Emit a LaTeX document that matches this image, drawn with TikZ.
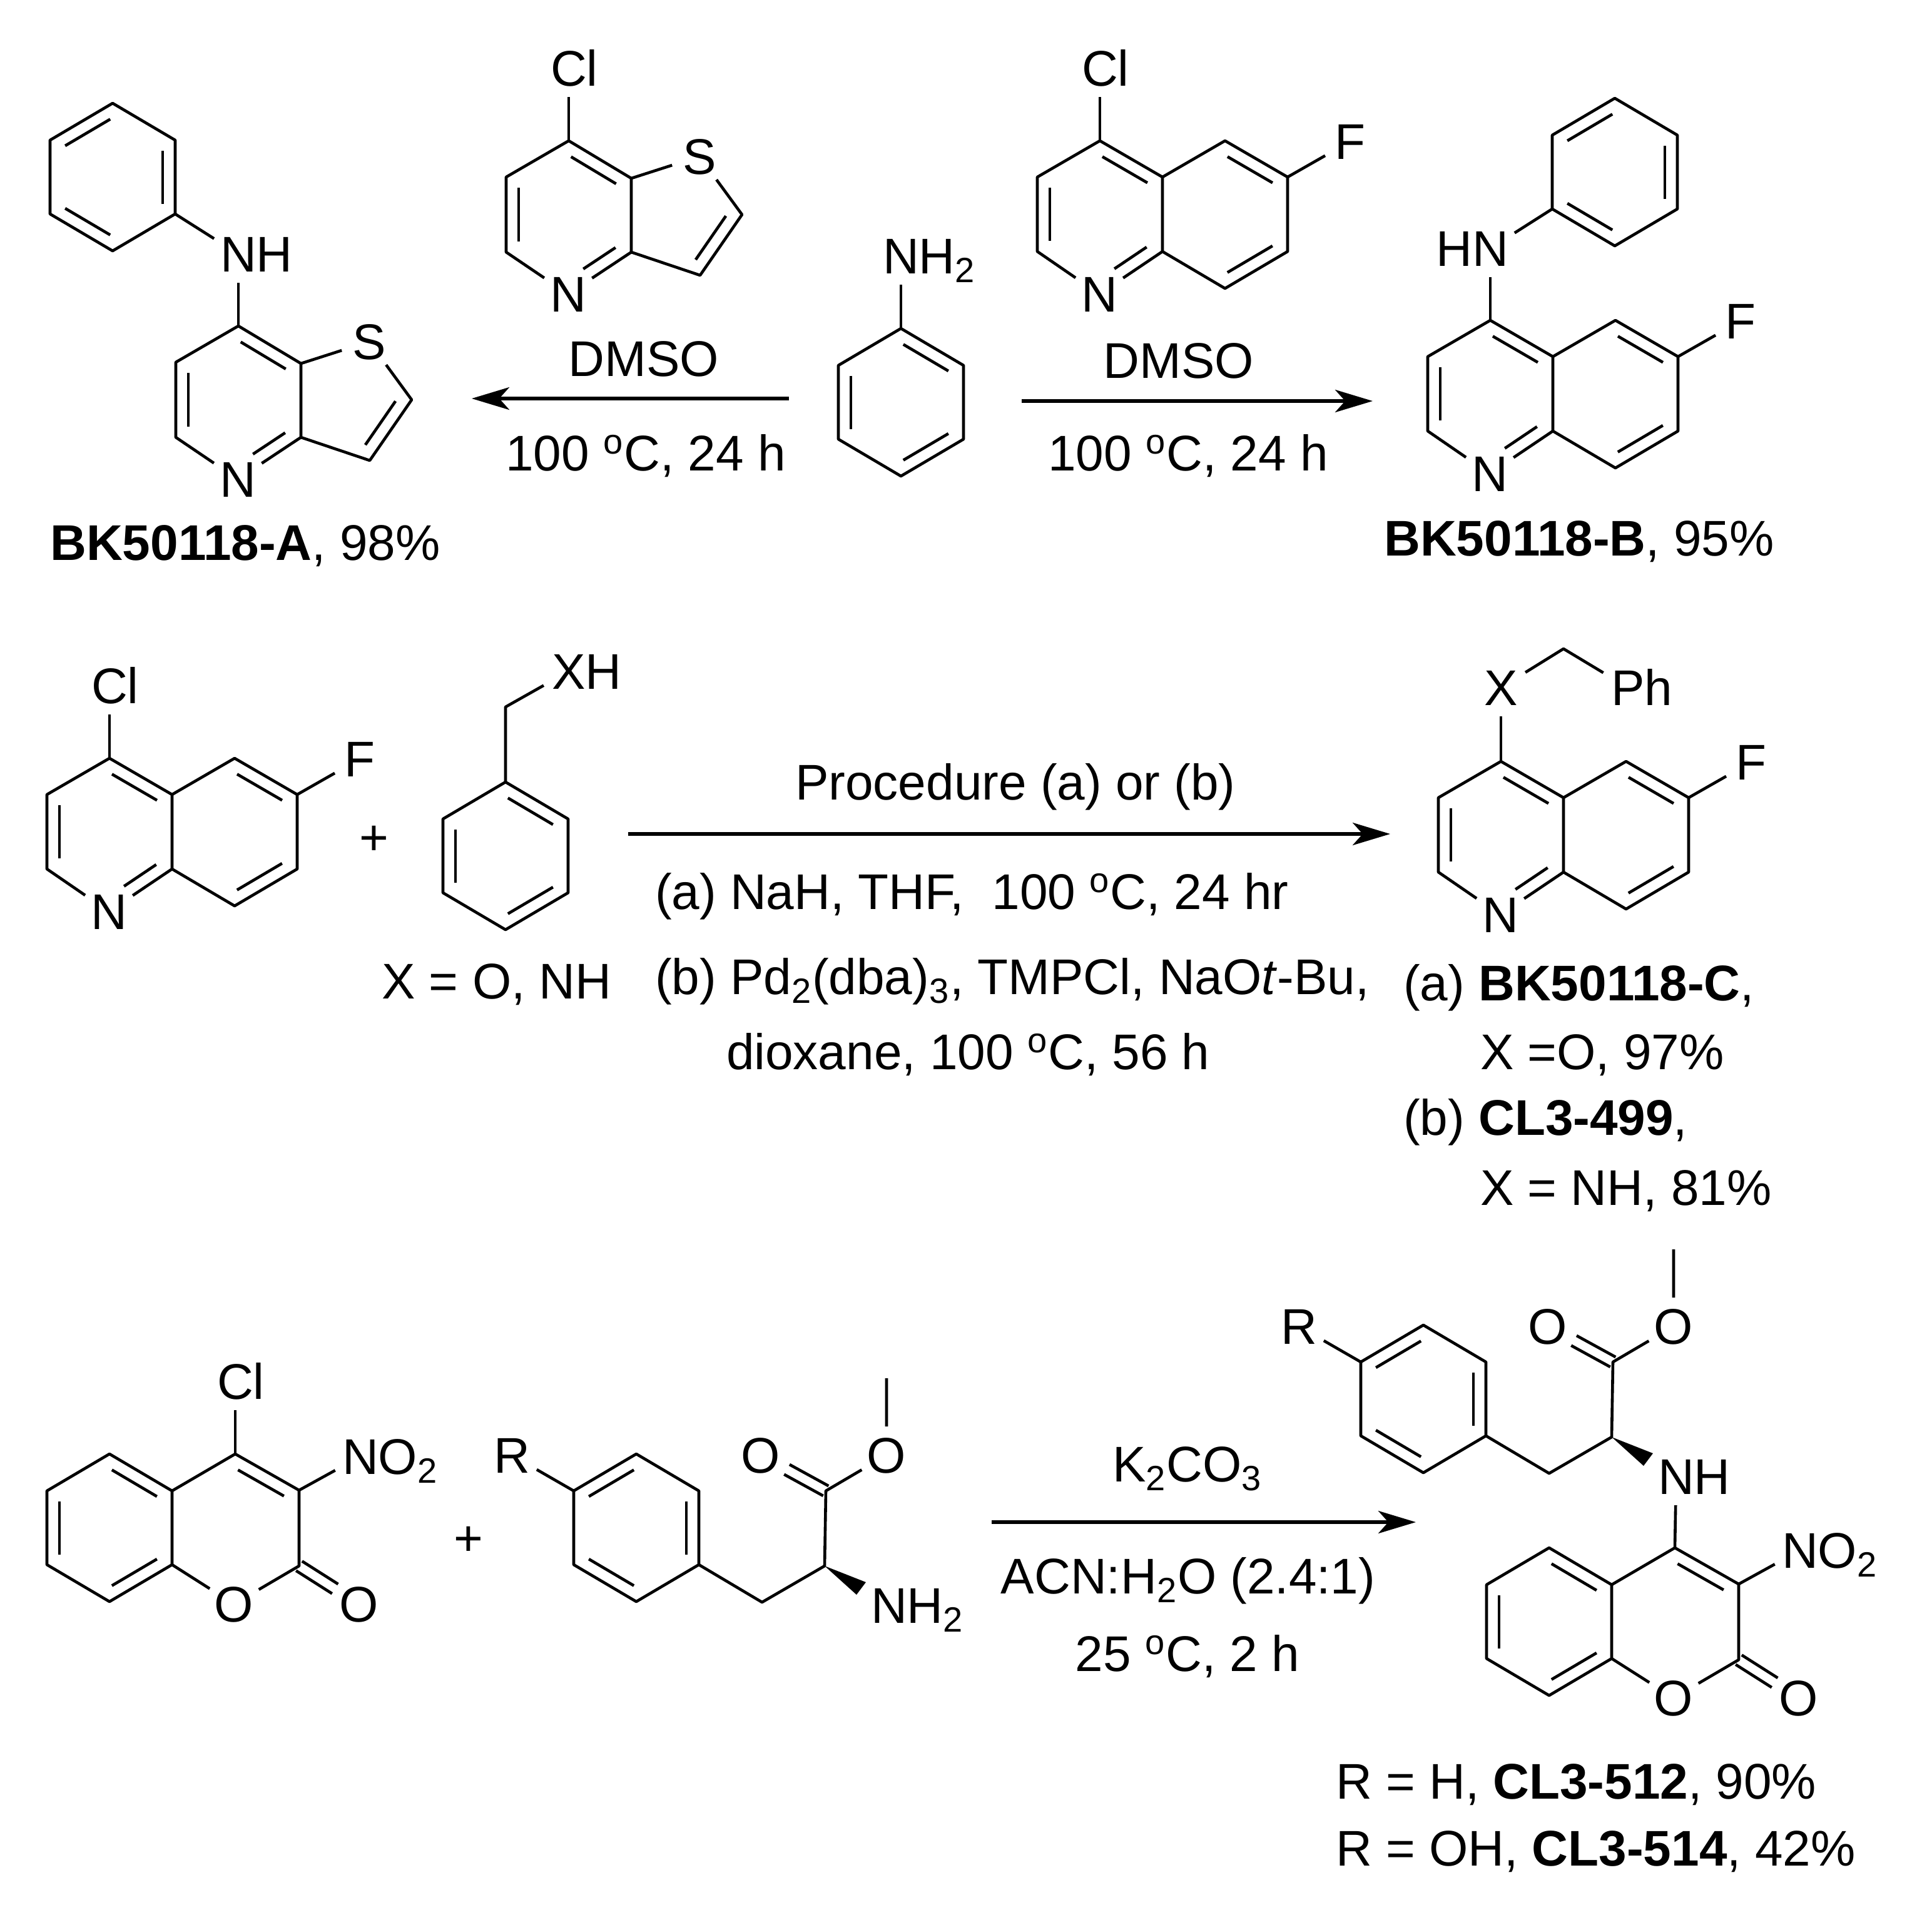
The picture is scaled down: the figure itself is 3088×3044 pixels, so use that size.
\documentclass[tikz,border=0pt]{standalone}
\usepackage{fontspec}
\setmainfont{Liberation Sans}
\usetikzlibrary{calc,arrows.meta}

\newcommand{\chemfont}{\fontsize{22.8pt}{27pt}\selectfont}
\newcommand{\dgC}{\textsuperscript{o}C}

\tikzset{
  bond/.style={line width=0.46mm,line join=round},
  rxn/.style={line width=0.52mm,-{Stealth[length=6mm,width=3.6mm,inset=1.6mm]}},
  atom/.style={circle,inner sep=0pt,outer sep=0pt,minimum size=9.2mm,font=\chemfont,text height=5.65mm,text depth=0pt},
  txt/.style={inner sep=0pt,outer sep=0pt,font=\chemfont,text height=5.65mm,text depth=0pt},
  txtl/.style={txt,anchor=west}
}

\newcommand{\inbond}[3][.14]{\draw[bond] ($(#2)!#1!(#3)!2mm!90:(#3)$) -- ($(#3)!.14!(#2)!2mm!-90:(#2)$);}
\newcommand{\exobond}[2]{
\draw[bond] ($(#1)!.9mm!90:(#2)$) -- ($(#1)!.6!(#2)!.9mm!90:(#2)$);
\draw[bond] ($(#1)!.9mm!-90:(#2)$) -- ($(#1)!.6!(#2)!.9mm!-90:(#2)$);
}
\newcommand{\ringpts}{
\coordinate (t) at (0,-118);
\coordinate (ru) at (100,-59);
\coordinate (rd) at (100,59);
\coordinate (b) at (0,118);
\coordinate (ld) at (-100,59);
\coordinate (lu) at (-100,-59);
\draw[bond] (t)--(ru)--(rd)--(b)--(ld)--(lu)--cycle;
}

\tikzset{
  pics/ringA/.style={code={
    \ringpts
    \inbond{t}{lu}
    \inbond{ld}{b}
    \inbond{rd}{ru}
  }},
  pics/ringB/.style={code={
    \ringpts
    \inbond{lu}{ld}
    \inbond{b}{rd}
    \inbond{ru}{t}
  }},
  pics/quinoline/.style={code={
    \coordinate (c4) at (0,0);
    \coordinate (c3) at (-100,58);
    \coordinate (c2) at (-100,177);
    \coordinate (c8a) at (100,177);
    \coordinate (c4a) at (100,58);
    \coordinate (c5) at (200,0);
    \coordinate (c6) at (300,58);
    \coordinate (c7) at (300,177);
    \coordinate (c8) at (200,236);
    \node[atom] (n) at (-1,245) {N};
    \node[atom] (f) at (400,1) {F};
    \draw[bond] (c4)--(c3)--(c2)--(n)--(c8a)--(c4a)--(c4);
    \draw[bond] (c4a)--(c5)--(c6)--(c7)--(c8)--(c8a);
    \draw[bond] (c6)--(f);
    \inbond{c4a}{c4}
    \inbond{c3}{c2}
    \inbond[.35]{n}{c8a}
    \inbond{c6}{c5}
    \inbond{c8}{c7}
  }},
  pics/thienopy/.style={code={
    \coordinate (c7) at (0,0);
    \coordinate (c6) at (-100,58);
    \coordinate (c5) at (-100,178);
    \coordinate (c3a) at (100,178);
    \coordinate (c7a) at (100,60);
    \coordinate (c2) at (277,118);
    \coordinate (c3) at (210,215);
    \node[atom] (n) at (-1,245) {N};
    \node[atom] (s) at (209,25) {S};
    \draw[bond] (c7)--(c6)--(c5)--(n)--(c3a)--(c7a)--(c7);
    \draw[bond] (c7a)--(s)--(c2)--(c3)--(c3a);
    \inbond{c7a}{c7}
    \inbond{c6}{c5}
    \inbond[.35]{n}{c3a}
    \inbond{c3}{c2}
  }},
  pics/coumarin/.style={code={
    \pic (r) at (-201,118) {ringB};
    \coordinate (c4) at (0,0);
    \coordinate (c3) at (102,58);
    \coordinate (c2) at (102,179);
    \node[atom] (o1) at (-2,240) {O};
    \node[atom] (oc) at (198,240) {O};
    \node[atom] (no) at (200,4) {N\rlap{O\textsubscript{2}}};
    \draw[bond] (c4)--(rru);
    \draw[bond] (rrd)--(o1)--(c2)--(c3)--(c4);
    \draw[bond] (c3)--(no);
    \inbond{c3}{c4}
    \exobond{c2}{oc}
  }},
  pics/phester/.style={code={
    \pic (r) at (0,118) {ringA};
    \coordinate (ch) at (201,237);
    \coordinate (ca) at (301,179);
    \coordinate (co) at (303,59);
    \coordinate (me) at (400,-121);
    \coordinate (wa) at (367,205);
    \coordinate (wb) at (352,225);
    \node[atom] (rg) at (-199,2) {R};
    \node[atom] (od) at (199,2) {O};
    \node[atom] (os) at (400,2) {O};
    \node[atom] (nn) at (404,242) {#1};
    \draw[bond] (rg)--(rlu);
    \draw[bond] (rrd)--(ch)--(ca)--(co)--(os)--(me);
    \exobond{co}{od}
    \fill (ca)--(wa)--(wb)--cycle;
  }}
}

\begin{document}
\begin{tikzpicture}[x=0.1mm,y=-0.1mm]
\useasboundingbox (0,0) rectangle (3088,3044);

% first row
\pic (pha) at (180,283) {ringA};
\node[atom] (nha) at (381,406) {N\rlap{H}};
\pic (tpa) at (381,521) {thienopy};
\draw[bond] (phard)--(nha);
\draw[bond] (nha)--(tpac7);
\node[txt] (capa) at (392,867) {\textbf{BK50118-A}, 98\%};

\pic (tpb) at (909,225) {thienopy};
\node[atom] (cla) at (909,109) {C\rlap{l}};
\draw[bond] (tpbc7)--(cla);

\pic (phb) at (1440,643) {ringB};
\node[atom] (nhb) at (1440,409) {N\rlap{H\textsubscript{2}}};
\draw[bond] (phbt)--(nhb);

\coordinate (ara) at (1261,637);
\coordinate (arb) at (754,637);
\draw[rxn] (ara)--(arb);
\node[txt] (dmsoa) at (1029,573) {DMSO};
\node[txt] (conda) at (1032,724) {100 \dgC, 24 h};

\pic (qa) at (1758,225) {quinoline};
\node[atom] (clb) at (1758,109) {C\rlap{l}};
\draw[bond] (qac4)--(clb);

\coordinate (arc) at (1633,641);
\coordinate (ard) at (2194,641);
\draw[rxn] (arc)--(ard);
\node[txt] (dmsob) at (1884,576) {DMSO};
\node[txt] (condb) at (1899,724) {100 \dgC, 24 h};

\pic (qb) at (2382,512) {quinoline};
\node[atom] (nhc) at (2382,397) {\llap{H}N};
\pic (phc) at (2581,275) {ringA};
\draw[bond] (qbc4)--(nhc);
\draw[bond] (nhc)--(phcld);
\node[txt] (capb) at (2524,860) {\textbf{BK50118-B}, 95\%};

% second row
\pic (qc) at (175,1212) {quinoline};
\node[atom] (clc) at (175,1096) {C\rlap{l}};
\draw[bond] (qcc4)--(clc);
\node[txt] (plusa) at (598,1338) {+};
\pic (phd) at (808,1368) {ringB};
\coordinate (chb) at (808,1130);
\node[atom] (xh) at (909,1073) {X\rlap{H}};
\draw[bond] (phdt)--(chb)--(xh);
\node[txt] (xeq) at (794,1568) {X = O, NH};

\coordinate (are) at (1004,1333);
\coordinate (arf) at (2222,1333);
\draw[rxn] (are)--(arf);
\node[txt] (proc) at (1623,1250) {Procedure (a) or (b)};
\node[txtl] (conda) at (1047,1425) {(a) NaH, THF,\ \ 100 \dgC, 24 hr};
\node[txtl] (condb) at (1047,1561) {(b) Pd\textsubscript{2}(dba)\textsubscript{3}, TMPCl, NaO\textit{t}-Bu,};
\node[txtl] (condc) at (1161,1681) {dioxane, 100 \dgC, 56 h};

\pic (qd) at (2399,1217) {quinoline};
\node[atom] (xa) at (2399,1099) {X};
\coordinate (chc) at (2499,1037);
\node[atom] (pa) at (2602,1099) {P\rlap{h}};
\draw[bond] (qdc4)--(xa);
\draw[bond] (xa)--(chc)--(pa);
\node[txtl] (capc) at (2243,1571) {(a) \textbf{BK50118-C},};
\node[txtl] (capd) at (2366,1681) {X =O, 97\%};
\node[txtl] (cape) at (2243,1786) {(b) \textbf{CL3-499},};
\node[txtl] (capf) at (2366,1898) {X = NH, 81\%};

% third row
\pic (coa) at (376,2324) {coumarin};
\node[atom] (cld) at (376,2208) {C\rlap{l}};
\draw[bond] (coac4)--(cld);
\node[txt] (plusb) at (749,2458) {+};
\pic (esa) at (1017,2324) {phester={N\rlap{H\textsubscript{2}}}};

\coordinate (arg) at (1585,2433);
\coordinate (arh) at (2263,2433);
\draw[rxn] (arg)--(arh);
\node[txt] (kco) at (1898,2340) {K\textsubscript{2}CO\textsubscript{3}};
\node[txt] (acn) at (1899,2519) {ACN:H\textsubscript{2}O (2.4:1)};
\node[txt] (condd) at (1898,2643) {25 \dgC, 2 h};

\pic (esb) at (2275,2118) {phester={N\rlap{H}}};
\pic (cob) at (2677,2474) {coumarin};
\draw[bond] (esbnn)--(cobc4);
\node[txtl] (capg) at (2135,2847) {R = H, \textbf{CL3-512}, 90\%};
\node[txtl] (caph) at (2135,2954) {R = OH, \textbf{CL3-514}, 42\%};
\end{tikzpicture}
\end{document}
